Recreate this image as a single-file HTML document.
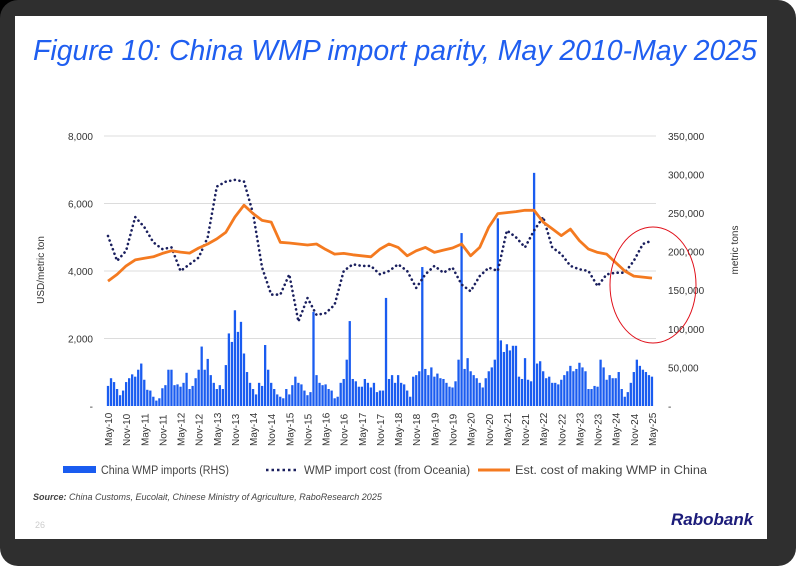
<!DOCTYPE html>
<html><head><meta charset="utf-8"><style>
body{margin:0;width:800px;height:573px;overflow:hidden;background:#fff;}
svg{display:block;font-family:"Liberation Sans",sans-serif;}
</style></head><body>
<svg width="800" height="573" viewBox="0 0 800 573">
<rect x="0" y="0" width="30" height="30" fill="#000"/>
<rect x="0" y="0" width="796" height="566" rx="18" fill="#2f2f2f"/>
<rect x="15" y="16" width="752" height="523" fill="#fff"/>
<text x="33" y="60" font-size="29" font-style="italic" fill="#1f5ef0" textLength="724" lengthAdjust="spacingAndGlyphs">Figure 10: China WMP import parity, May 2010-May 2025</text>
<g id="grid"></g>
<g id="bars"></g>
<g id="lines"></g>
<g id="axes" font-size="10" fill="#333"></g>
<text transform="translate(44,270) rotate(-90)" text-anchor="middle" font-size="10" fill="#333">USD/metric ton</text>
<text transform="translate(738,250) rotate(-90)" text-anchor="middle" font-size="10" fill="#333">metric tons</text>
<ellipse cx="653" cy="285" rx="43" ry="58" fill="none" stroke="#e0101a" stroke-width="1"/>
<g font-size="11.5" fill="#444">
<rect x="63" y="466" width="33" height="7" fill="#1a5cf0"/>
<text x="101" y="474" textLength="128" lengthAdjust="spacingAndGlyphs">China WMP imports (RHS)</text>
<line x1="266" y1="470" x2="298" y2="470" stroke="#1a1f5e" stroke-width="2.6" stroke-dasharray="2.5,3"/>
<text x="304" y="474" textLength="166" lengthAdjust="spacingAndGlyphs">WMP import cost (from Oceania)</text>
<line x1="478" y1="470" x2="510" y2="470" stroke="#f47a20" stroke-width="3"/>
<text x="515" y="474" textLength="192" lengthAdjust="spacingAndGlyphs">Est. cost of making WMP in China</text>
</g>
<text x="33" y="500" font-size="9" font-style="italic" fill="#444"><tspan font-weight="bold">Source:</tspan> China Customs, Eucolait, Chinese Ministry of Agriculture, RaboResearch 2025</text>
<text x="35" y="528" font-size="9" fill="#ccc">26</text>
<text x="671" y="525" font-size="17" font-weight="bold" font-style="italic" fill="#1c1c7a">Rabobank</text>
</svg>
<script>
const barValues=[26,36,31,22,14,20,31,36,41,38,47,55,
34,21,20,12,7,10,23,27,47,47,27,28,
25,30,43,22,26,36,47,77,47,61,40,30,
22,27,22,53,94,83,124,96,109,68,44,30,
22,15,30,26,79,47,30,22,15,12,10,22,
15,27,38,30,28,20,14,18,122,40,30,27,
28,22,20,10,12,30,35,60,110,35,32,25,
25,35,30,24,30,18,20,20,140,35,40,30,
40,30,28,20,12,38,40,45,180,48,40,50,
38,42,36,35,30,25,24,32,60,224,48,62,
45,40,36,30,24,36,45,50,60,243,85,70,
80,72,78,78,38,35,62,34,32,302,55,58,
45,36,38,30,30,28,34,40,45,52,45,48,
56,50,45,22,22,26,25,60,50,34,40,36,
36,44,22,12,18,30,44,60,52,47,44,40,38];
const importCost=[5037,4300,4600,5600,5300,4850,4650,4700,4000,4200,4400,5000,6500,6650,6700,6650,5700,4100,3300,3300,3900,2500,3200,2700,2750,3000,4000,4200,4150,4150,3900,4000,4200,4000,3500,3900,4150,3950,4100,3600,3400,3850,4100,4000,5200,5000,4700,5200,5600,4700,4500,4150,4050,4000,3550,3900,3950,3950,4300,4800,4900];
const chinaCost=[3700,3900,4150,4330,4380,4420,4520,4600,4560,4530,4680,4800,4950,5150,5600,5950,5700,5500,5450,4850,4830,4800,4770,4800,4640,4500,4520,4480,4450,4420,4650,4800,4700,4450,4600,4700,4550,4620,4680,4800,4450,4700,5300,5700,5730,5760,5800,5800,5450,5250,5050,5240,4900,4650,4550,4500,4250,4000,3850,3820,3790];
const leftTicks=[0,2000,4000,6000,8000];
const leftTickLabels=["-","2,000","4,000","6,000","8,000"];
const rightTicks=[0,50,100,150,200,250,300,350];
const rightTickLabels=["-","50,000","100,000","150,000","200,000","250,000","300,000","350,000"];
const xLabels=[];
for(let y=10;y<=25;y++){xLabels.push("May-"+y);if(y<25)xLabels.push("Nov-"+y);}
const NS="http://www.w3.org/2000/svg";
const x=m=>108+m*3.022;
const yL=v=>406-v*0.03375;
const yR=v=>406-v*0.772;
function mk(tag,attrs,parent){const e=document.createElementNS(NS,tag);for(const k in attrs)e.setAttribute(k,attrs[k]);document.getElementById(parent).appendChild(e);return e;}
leftTicks.forEach((t,i)=>{
 if(t>0){const g=mk('line',{x1:104,x2:656,y1:yL(t),y2:yL(t),stroke:'#dcdcdc','stroke-width':1},'grid');
 
 }
 const l=mk('text',{x:93,y:yL(t)+4,'text-anchor':'end'},'axes');l.textContent=leftTickLabels[i];
 
 
});
rightTicks.forEach((t,i)=>{
 const l=mk('text',{x:668,y:yR(t)+4},'axes');l.textContent=rightTickLabels[i];
 
 
});
xLabels.forEach((s,i)=>{
 const px=x(i*6);
 const l=mk('text',{transform:`translate(${px+4},446) rotate(-90)`},'axes');l.textContent=s;
 
 
});
barValues.forEach((v,i)=>{
 const b=mk('rect',{x:x(i)-1.15,y:yR(v),width:2.3,height:406-yR(v),fill:'#1a5cf0'},'bars');
 
 
});
const p1=importCost.map((v,i)=>`${x(i*3).toFixed(1)},${yL(v).toFixed(1)}`).join(' ');
const d=mk('polyline',{points:p1,fill:'none',stroke:'#1a1f5e','stroke-width':2.6,'stroke-dasharray':'0.1,4.6','stroke-linecap':'round','stroke-linejoin':'round'},'lines');


const p2=chinaCost.map((v,i)=>`${x(i*3).toFixed(1)},${yL(v).toFixed(1)}`).join(' ');
const o=mk('polyline',{points:p2,fill:'none',stroke:'#f47a20','stroke-width':2.8,'stroke-linejoin':'round'},'lines');


</script>
</body></html>
